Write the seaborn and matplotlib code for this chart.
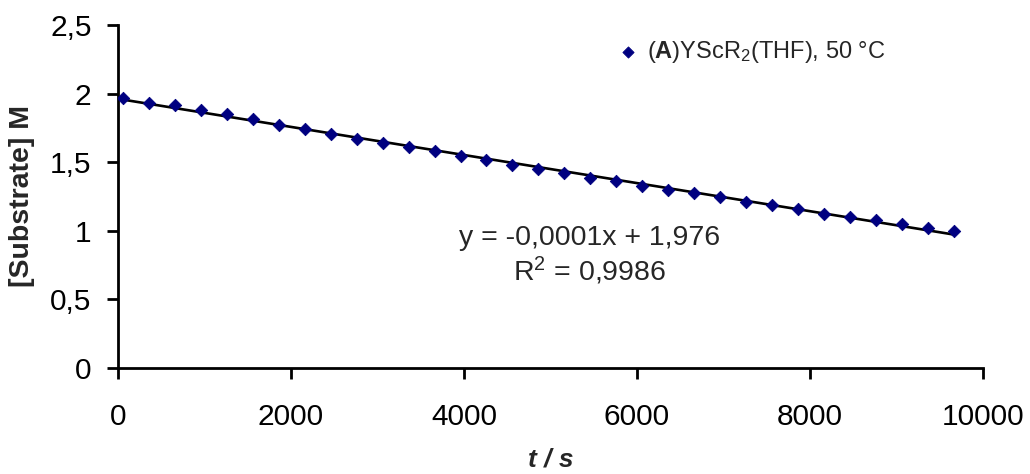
import numpy as np
import pandas as pd
import matplotlib
matplotlib.use("Agg")
import matplotlib.pyplot as plt
import seaborn as sns
from matplotlib.ticker import FixedLocator, FixedFormatter

# data
time_s = [60, 360, 660, 960, 1260, 1560, 1860, 2160, 2460, 2760, 3060,
          3360, 3660, 3960, 4260, 4560, 4860, 5160, 5460, 5760, 6060,
          6360, 6660, 6960, 7260, 7560, 7860, 8160, 8460, 8760, 9060,
          9360, 9660]
substrate_M = [1.966, 1.934, 1.915, 1.880, 1.849, 1.813, 1.773, 1.740,
               1.706, 1.672, 1.643, 1.611, 1.580, 1.548, 1.514, 1.483,
               1.450, 1.419, 1.383, 1.363, 1.329, 1.297, 1.278, 1.244,
               1.212, 1.190, 1.157, 1.122, 1.103, 1.077, 1.052, 1.023,
               0.999]
series_label = r"($\mathbf{A}$)YScR$_2$(THF), 50 °C"
fit_text = "y = -0,0001x + 1,976"
r2_text = r"R$^2$ = 0,9986"

x_ticks = [0, 2000, 4000, 6000, 8000, 10000]
x_ticklabels = ["0", "2000", "4000", "6000", "8000", "10000"]
y_ticks = [0, 0.5, 1, 1.5, 2, 2.5]
y_ticklabels = ["0", "0,5", "1", "1,5", "2", "2,5"]

df = pd.DataFrame({"t": time_s, "c": substrate_M})

sns.set_style("ticks")
plt.rcParams["font.family"] = ["Liberation Sans", "DejaVu Sans"]
plt.rcParams["mathtext.fontset"] = "custom"
plt.rcParams["mathtext.rm"] = "Liberation Sans"
plt.rcParams["mathtext.bf"] = "Liberation Sans:bold"
plt.rcParams["mathtext.it"] = "Liberation Sans:italic"

fig = plt.figure(figsize=(10.30, 4.74), dpi=100)
ax = fig.add_axes([118 / 1030, 1 - 368 / 474, 865 / 1030, 343 / 474])

# linear trendline
sns.regplot(data=df, x="t", y="c", ax=ax, scatter=False, ci=None,
            truncate=True, line_kws={"color": "black", "lw": 1.9, "zorder": 2})
sns.scatterplot(data=df, x="t", y="c", ax=ax, marker="D", s=40,
                color="#000080", edgecolor="#000080", linewidth=0.6,
                label=series_label, zorder=3)

ax.set_xlim(0, 10000)
ax.set_ylim(0, 2.5)
ax.xaxis.set_major_locator(FixedLocator(x_ticks))
ax.xaxis.set_major_formatter(FixedFormatter(x_ticklabels))
ax.yaxis.set_major_locator(FixedLocator(y_ticks))
ax.yaxis.set_major_formatter(FixedFormatter(y_ticklabels))

for side in ["top", "right"]:
    ax.spines[side].set_visible(False)
for side in ["left", "bottom"]:
    ax.spines[side].set_linewidth(2.0)
    ax.spines[side].set_color("black")
ax.tick_params(axis="both", direction="out", length=8, width=2.0,
               labelsize=21.5, colors="black")
ax.tick_params(axis="x", pad=17)
ax.tick_params(axis="y", pad=11)

ax.set_xlabel("t / s", fontsize=19, fontweight="bold", style="italic")
ax.set_ylabel("[Substrate] M", fontsize=20.5, fontweight="bold")
ax.xaxis.set_label_coords(0.5, -0.232)
ax.yaxis.set_label_coords(-0.096, 0.5)

ax.text(0.5457, 0.3586, fit_text, transform=ax.transAxes, ha="center",
        va="baseline", fontsize=20.5)
ax.text(0.5457, 0.2536, r2_text, transform=ax.transAxes, ha="center",
        va="baseline", fontsize=20.5)

ax.legend(loc="center left", bbox_to_anchor=(0.5786, 0.921), frameon=False,
          fontsize=17, handlelength=0.8, handletextpad=0.4, borderpad=0,
          borderaxespad=0, markerscale=0.9)

fig.savefig("out.png", dpi=100)
